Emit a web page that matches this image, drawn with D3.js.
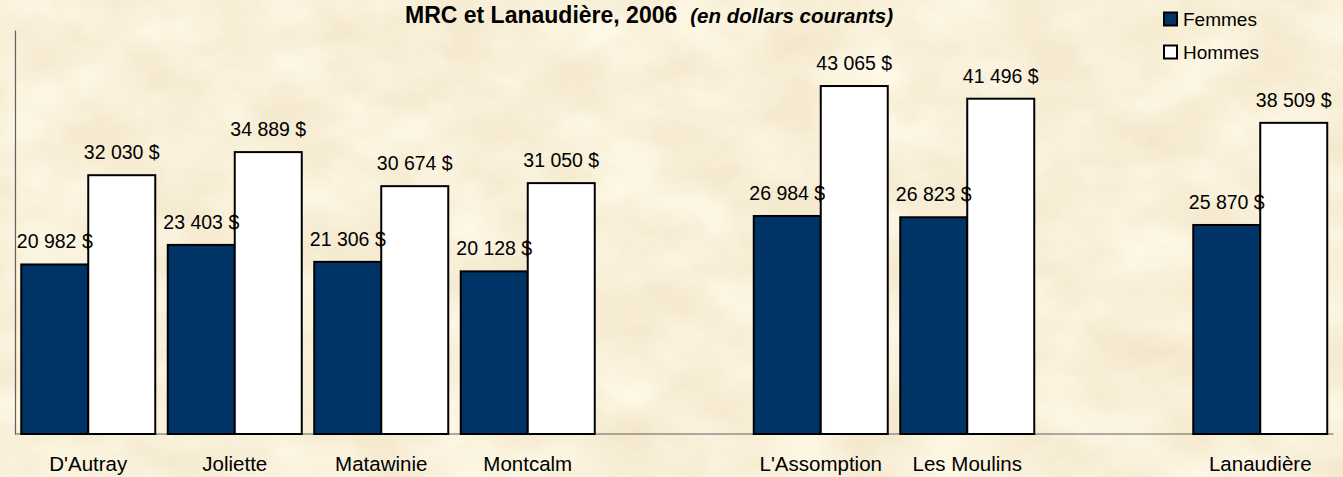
<!DOCTYPE html>
<html>
<head>
<meta charset="utf-8">
<script src="https://cdn.jsdelivr.net/npm/d3@7"></script>
<style>
body{margin:0;overflow:hidden;}
</style>
</head>
<body>
<div id="chart"></div>
<script>
let categories = ["D'Autray","Joliette","Matawinie","Montcalm","","L'Assomption","Les Moulins","","Lanaudière"];
let femmes = [20982,23403,21306,20128,null,26984,26823,null,25870];
let hommes = [32030,34889,30674,31050,null,43065,41496,null,38509];
let seriesNames = ["Femmes","Hommes"];
let yTicks = [0,50000];

let x = drawChart();

function drawChart(){
    let width = 1343;
    let height = 477;
    let colors = {Femmes:"#003366",Hommes:"#ffffff"};

    let svg = d3.create("svg")
        .attr("width",width)
        .attr("height",height)
        .style("font-family","Arial, 'Liberation Sans', sans-serif");

    // parchment background
    let defs = svg.append("defs");
    let filter = defs.append("filter")
        .attr("id","paper")
        .attr("x",0).attr("y",0).attr("width","100%").attr("height","100%")
        .attr("color-interpolation-filters","sRGB");
    filter.append("feTurbulence")
        .attr("type","fractalNoise")
        .attr("baseFrequency","0.012 0.018")
        .attr("numOctaves",4)
        .attr("seed",7);
    filter.append("feColorMatrix")
        .attr("type","matrix")
        .attr("values","0.06 0 0 0 0.945  0.10 0 0 0 0.89  0.16 0 0 0 0.77  0 0 0 0 1");
    svg.append("rect")
        .attr("width",width)
        .attr("height",height)
        .attr("filter","url(#paper)");

    let idx = d3.range(categories.length);
    let x0 = d3.scaleBand()
        .domain(idx)
        .range([15,1333.5])
        .paddingInner(0.0853)
        .paddingOuter(0.0427);
    let x1 = d3.scaleBand()
        .domain(seriesNames)
        .range([0,x0.bandwidth()]);
    let y = d3.scaleLinear()
        .domain(d3.extent(yTicks))
        .range([434,30]);

    let data = idx.filter(i => femmes[i] !== null).map(i => ({i:i,Femmes:femmes[i],Hommes:hommes[i]}));

    // axes
    svg.append("g")
        .attr("transform","translate(15,0)")
        .call(d3.axisLeft(y).tickValues([]).tickSizeOuter(0))
        .call(g => g.select(".domain").attr("stroke","#606060").attr("stroke-width",1.2));
    svg.append("g")
        .attr("transform",`translate(0,${y(0)})`)
        .call(d3.axisBottom(x0).tickSize(0).tickFormat(i => categories[i]))
        .call(g => g.select(".domain").attr("stroke","#606060").attr("stroke-width",1.2).attr("d",`M15,0H1333.5`))
        .call(g => g.selectAll(".tick text")
            .attr("fill","#000")
            .attr("font-size",20.5)
            .attr("font-family","Arial, 'Liberation Sans', sans-serif")
            .attr("dy",0)
            .attr("y",37));

    let groups = svg.append("g")
        .selectAll("g")
        .data(data)
        .join("g")
            .attr("transform",d => `translate(${x0(d.i)},0)`);

    groups.selectAll("rect")
        .data(d => seriesNames.map(k => ({key:k,value:d[k]})))
        .join("rect")
            .attr("x",d => x1(d.key))
            .attr("y",d => y(d.value))
            .attr("width",x1.bandwidth())
            .attr("height",d => y(0) - y(d.value))
            .attr("fill",d => colors[d.key])
            .attr("stroke","#000")
            .attr("stroke-width",2);

    let fmt = v => d3.format(",")(v).replace(",", " ") + " $";
    groups.selectAll("text")
        .data(d => seriesNames.map(k => ({key:k,value:d[k]})))
        .join("text")
            .attr("x",d => x1(d.key) + x1.bandwidth()/2)
            .attr("y",d => y(d.value) - 16)
            .attr("text-anchor","middle")
            .attr("font-size",19.5)
            .attr("fill","#000")
            .text(d => fmt(d.value));

    // title
    let title = svg.append("text")
        .attr("x",405)
        .attr("y",23)
        .attr("fill","#000");
    title.append("tspan")
        .attr("font-size",23)
        .attr("font-weight","bold")
        .text("MRC et Lanaudière, 2006");
    title.append("tspan")
        .attr("font-size",20.5)
        .attr("font-weight","bold")
        .attr("font-style","italic")
        .attr("dx",13)
        .text("(en dollars courants)");

    // legend
    let legend = svg.append("g")
        .selectAll("g")
        .data(seriesNames)
        .join("g")
            .attr("transform",(d,i) => `translate(1163,${12 + i*33})`);
    legend.append("rect")
        .attr("x",1)
        .attr("y",0.5)
        .attr("width",13)
        .attr("height",13)
        .attr("fill",d => colors[d])
        .attr("stroke","#000")
        .attr("stroke-width",2);
    legend.append("text")
        .attr("x",20)
        .attr("y",14)
        .attr("font-size",19)
        .attr("fill","#000")
        .text(d => d);

    document.getElementById("chart").appendChild(svg.node());
    return x0;
}
</script>
</body>
</html>
